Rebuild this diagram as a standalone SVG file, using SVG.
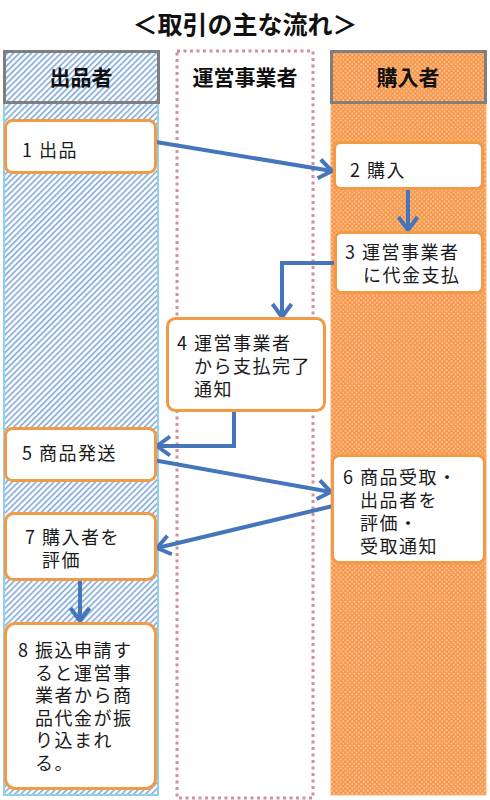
<svg xmlns="http://www.w3.org/2000/svg" width="490" height="800" viewBox="0 0 490 800">
<defs>
<pattern id="hatch" width="4.2" height="4.2" patternUnits="userSpaceOnUse" patternTransform="rotate(45)">
<rect width="4.2" height="4.2" fill="#ffffff"/>
<rect width="1.8" height="4.2" fill="#8fb2dc"/>
</pattern>
<pattern id="dots" width="4.5" height="4.5" patternUnits="userSpaceOnUse">
<rect width="4.5" height="4.5" fill="#f7964a"/>
<circle cx="1.2" cy="1.2" r="0.9" fill="#fcd2ae"/>
<circle cx="3.45" cy="3.45" r="0.9" fill="#fcd2ae"/>
</pattern>
<marker id="arr" viewBox="0 0 24 24" markerWidth="24" markerHeight="24" refX="18" refY="12" orient="auto" markerUnits="userSpaceOnUse">
<path d="M5,2.5 L18,12 L5,21.5" fill="none" stroke="#4576bc" stroke-width="4" stroke-linejoin="miter"/>
</marker>
</defs>
<style>
.t{font-family:"Noto Sans CJK JP","Noto Sans",sans-serif;font-size:18px;fill:#1a1a1a;letter-spacing:1.5px}
.h{font-family:"Noto Sans CJK JP","Noto Sans",sans-serif;font-size:21px;font-weight:bold;fill:#111;text-anchor:middle}
.box{fill:#ffffff;stroke:#f39a47;stroke-width:3}
.hd{stroke:#7f7f7f;stroke-width:3}
.ln{fill:none;stroke:#4576bc;stroke-width:4;marker-end:url(#arr)}
</style>
<rect width="490" height="800" fill="#ffffff"/>
<text x="245" y="34" font-family="'Noto Sans CJK JP',sans-serif" font-size="25" font-weight="bold" text-anchor="middle" fill="#111">＜取引の主な流れ＞</text>

<g id="lane-seller">
<rect x="4" y="103" width="154" height="692" fill="url(#hatch)" stroke="#92d0e8" stroke-width="2"/>
<rect x="4.5" y="51.5" width="154" height="51" fill="url(#hatch)" class="hd"/>
<text class="h" x="81" y="85">出品者</text>
</g>
<g id="lane-operator">
<rect x="177" y="51" width="136" height="747" fill="#ffffff" stroke="#d3909c" stroke-width="3" stroke-dasharray="3,3.5"/>
<text class="h" x="245" y="85">運営事業者</text>
</g>
<g id="lane-buyer">
<rect x="331" y="103" width="155" height="692" fill="url(#dots)" stroke="#f9b27a" stroke-width="1"/>
<rect x="331.5" y="51.5" width="154" height="51" fill="url(#dots)" class="hd"/>
<text class="h" x="408" y="85">購入者</text>
</g>

<g id="connectors">
<line class="ln" x1="156" y1="142" x2="332" y2="171"/>
<line class="ln" x1="408" y1="188" x2="408" y2="230"/>
<polyline class="ln" points="336,263 282,263 282,317"/>
<polyline class="ln" points="234,410 234,446 157,446"/>
<line class="ln" x1="153" y1="460" x2="331" y2="492"/>
<line class="ln" x1="333" y1="506" x2="157" y2="548"/>
<line class="ln" x1="80" y1="580" x2="80" y2="621"/>
</g>

<g id="n1">
<rect class="box" x="5.5" y="120.5" width="150" height="52" rx="7"/>
<text class="t" x="22" y="157">1 出品</text>
</g>
<g id="n2">
<rect class="box" x="334.5" y="142.5" width="148" height="46" rx="6"/>
<text class="t" x="350" y="177">2 購入</text>
</g>
<g id="n3">
<rect class="box" x="335.5" y="232.5" width="147" height="60" rx="6"/>
<text class="t"><tspan x="345" y="259">3 運営事業者</tspan><tspan x="363" y="282">に代金支払</tspan></text>
</g>
<g id="n4">
<rect class="box" x="167.5" y="318.5" width="157" height="92" rx="8"/>
<text class="t"><tspan x="177" y="350">4 運営事業者</tspan><tspan x="194" y="373">から支払完了</tspan><tspan x="194" y="396">通知</tspan></text>
</g>
<g id="n5">
<rect class="box" x="5.5" y="428.5" width="150" height="52" rx="7"/>
<text class="t" x="22" y="460">5 商品発送</text>
</g>
<g id="n6">
<rect class="box" x="332.5" y="455.5" width="152" height="107" rx="7"/>
<text class="t"><tspan x="343" y="484">6 商品受取・</tspan><tspan x="360" y="507">出品者を</tspan><tspan x="360" y="530">評価・</tspan><tspan x="360" y="553">受取通知</tspan></text>
</g>
<g id="n7">
<rect class="box" x="5.5" y="513.5" width="150" height="66" rx="8"/>
<text class="t"><tspan x="25" y="544">7 購入者を</tspan><tspan x="42" y="567">評価</tspan></text>
</g>
<g id="n8">
<rect class="box" x="5.5" y="623.5" width="150" height="165" rx="10"/>
<text class="t"><tspan x="18" y="657">8 振込申請す</tspan><tspan x="35" y="680">ると運営事</tspan><tspan x="35" y="702">業者から商</tspan><tspan x="35" y="725">品代金が振</tspan><tspan x="35" y="747">り込まれ</tspan><tspan x="35" y="770">る。</tspan></text>
</g>
</svg>
